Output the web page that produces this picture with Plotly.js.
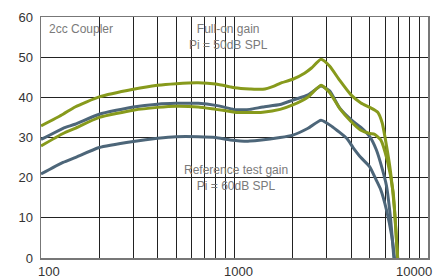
<!DOCTYPE html>
<html>
<head>
<meta charset="utf-8">
<script src="https://cdn.plot.ly/plotly-3.0.1.min.js"></script>
<style>html,body{margin:0;padding:0;background:#fff;}#chart{width:433px;height:280px;}</style>
</head>
<body>
<div id="chart"></div>
<script>
// Frequencies (Hz) and gains (dB)
const fullOnFreq = [100,130,150,200,300,400,500,650,800,950,1000,1200,1400,1600,1720,2000,2300,2500,2800,3100,3500,4000,4500,5000,5500,5800,6100,6400,6700,6950,7050];
const fullOnGain = [32.9,35.8,37.6,40.1,42.0,43.0,43.4,43.6,43.3,42.6,42.4,42.1,42.0,42.8,43.5,44.5,46.0,47.3,49.5,47.8,44.2,40.6,38.6,37.5,36.3,33.6,28.0,21.5,12.5,0.5,-3];

const fullOn2Freq = [100,130,150,200,300,400,500,650,800,950,1000,1200,1400,1720,2000,2400,2800,3100,3500,4000,4500,5000,5300,5700,6150,6600,6950,7050];
const fullOn2Gain = [27.9,31.0,32.3,35.0,36.8,37.5,37.8,37.6,37.0,36.5,36.3,36.2,36.3,37.0,38.1,40.1,43.0,41.2,37.2,34.0,31.8,31.0,30.8,29.4,24.4,16.5,1.0,-3];

const refHiFreq = [100,130,150,200,300,400,500,650,800,950,1000,1200,1400,1720,2000,2400,2800,3100,3500,4100,4500,5000,5400,5700,6100,6400,6650,6750];
const refHiGain = [29.5,32.3,33.3,35.8,37.6,38.3,38.5,38.5,38.0,37.2,36.9,37.0,37.6,38.2,39.3,40.6,42.8,41.6,37.3,34.0,32.5,30.2,27.0,23.5,18.0,10.0,0.5,-3];

const refLoFreq = [100,130,150,200,300,400,500,650,800,950,1200,1720,2000,2400,2800,3200,3800,4100,4500,5000,5400,5700,6100,6500,6700,6800];
const refLoGain = [20.9,23.8,25.0,27.5,29.0,29.8,30.2,30.2,30.0,29.4,29.1,30.0,30.6,32.3,34.3,32.7,29.8,27.5,25.0,22.7,19.4,17.0,12.0,5.4,0.3,-3];

const yTicks = [0,10,20,30,40,50,60];
const xGrid = [100,200,300,400,500,600,700,800,900,1000,2000,3000,4000,5000,6000,7000,8000,9000,10000];
const xLabelVals = [100, 1000, 10000];
const xLabelText = ['100', '1000', '10000'];
const xLabelShift = [8, 4, -14];

const green = '#879a1c';
const blue = '#4d6679';

function tr(x, y, c) {
  return {x: x, y: y, type: 'scatter', mode: 'lines',
    line: {color: c, width: 3, shape: 'spline', smoothing: 0.5},
    hoverinfo: 'skip', showlegend: false};
}

const data = [
  tr(refLoFreq, refLoGain, blue),
  tr(refHiFreq, refHiGain, blue),
  tr(fullOn2Freq, fullOn2Gain, green),
  tr(fullOnFreq, fullOnGain, green)
];

const tickFont = {family: 'Liberation Sans, Arial, sans-serif', size: 13, color: '#333'};
const annFont = {family: 'Liberation Sans, Arial, sans-serif', size: 12, color: '#7a7a7a'};

const xLabelAnns = xLabelVals.map((v, i) => ({
  xref: 'x', yref: 'paper', x: Math.log10(v), y: -0.056, xanchor: 'center', yanchor: 'middle',
  xshift: xLabelShift[i], text: xLabelText[i], showarrow: false, font: tickFont
}));

const layout = {
  width: 433, height: 280,
  margin: {l: 41, r: 5, t: 17, b: 22, pad: 0},
  paper_bgcolor: '#fff', plot_bgcolor: '#fff',
  showlegend: false,
  xaxis: {
    type: 'log', range: [2, 4],
    tickvals: xGrid, showticklabels: false,
    showgrid: true, gridcolor: '#222', gridwidth: 1,
    showline: true, mirror: true, linecolor: '#777', linewidth: 1.5,
    ticks: '', zeroline: false
  },
  yaxis: {
    range: [0, 60], tickvals: yTicks,
    showgrid: true, gridcolor: '#222', gridwidth: 1,
    showline: true, mirror: true, linecolor: '#777', linewidth: 1.5,
    ticks: '', zeroline: false, ticklabelstandoff: 4,
    tickfont: tickFont
  },
  annotations: [
    {xref: 'paper', yref: 'paper', x: 0.016, y: 0.95, xanchor: 'left', yanchor: 'middle',
     text: '2cc Coupler', showarrow: false, font: annFont},
    {xref: 'paper', yref: 'paper', x: 0.485, y: 0.916, xanchor: 'center', yanchor: 'middle', align: 'center',
     text: 'Full-on gain<br>Pi = 50dB SPL', showarrow: false, font: annFont},
    {xref: 'paper', yref: 'paper', x: 0.503, y: 0.332, xanchor: 'center', yanchor: 'middle', align: 'center',
     text: 'Reference test gain<br>Pi = 60dB SPL', showarrow: false, font: annFont}
  ].concat(xLabelAnns)
};

Plotly.newPlot('chart', data, layout, {displayModeBar: false, staticPlot: true});
</script>
</body>
</html>
